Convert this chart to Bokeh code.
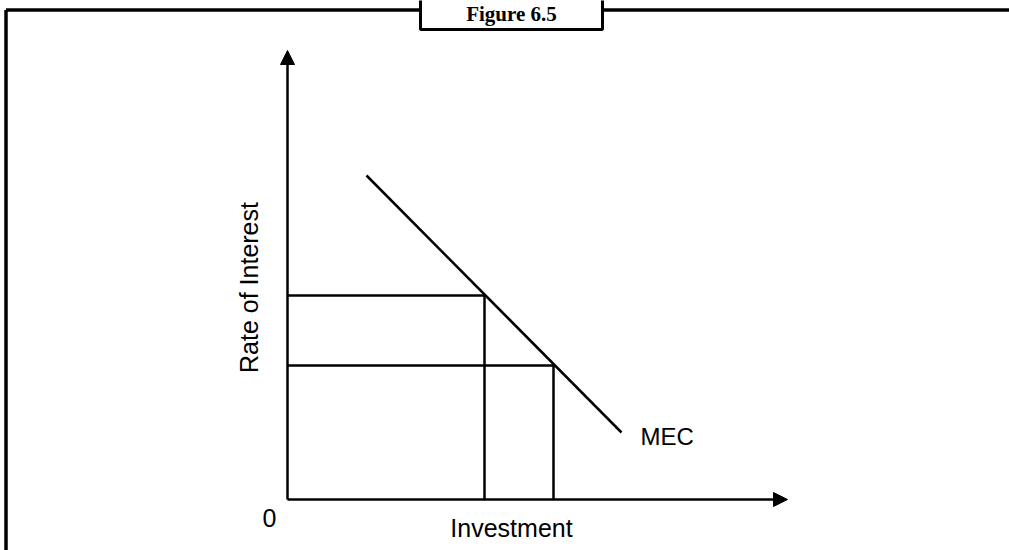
from bokeh.plotting import figure
from bokeh.models import Range1d, Arrow, NormalHead
from bokeh.core.properties import value
from bokeh.embed import file_html
from bokeh.resources import INLINE
import math

# ---- schematic data (abstract units) ----
mec_x = [1.58, 6.68]          # MEC curve, investment axis
mec_y = [6.48, 1.34]          # MEC curve, rate of interest axis
rates = [4.08, 2.68]          # two rates of interest
investments = [3.94, 5.32]    # matching investment levels
axis_x_max = 10.0
axis_y_max = 8.98
title_text = "Figure 6.5"
x_label = "Investment"
y_label = "Rate of Interest"
curve_label = "MEC"
origin_label = "0"

W, H = 1009, 550
OX, OY, S = 287.0, 499.0, 50.0   # pixel position of origin and pixels per unit


def px(x):
    return (x - OX) / S


def py(y):
    return (OY - y) / S


p = figure(width=W, height=H, output_backend="svg", toolbar_location=None,
           x_range=Range1d(px(0), px(W)), y_range=Range1d(py(H), py(0)),
           min_border=0)
p.axis.visible = False
p.grid.visible = False
p.outline_line_color = None
p.background_fill_color = "white"
p.border_fill_color = "white"

lw = 2.5
# ---- page frame ----
p.line([px(5.5), px(5.5)], [py(H + 20), py(9.5)], line_color="black", line_width=3.5)
p.line([px(5.5), px(420)], [py(9.5), py(9.5)], line_color="black", line_width=3.5)
p.line([px(602), px(W + 20)], [py(9.5), py(9.5)], line_color="black", line_width=3.5)
p.quad(left=px(420), right=px(602), bottom=py(29), top=py(-20),
       fill_color="white", line_color="black", line_width=3)
p.text(x=[px(511)], y=[py(13)], text=[title_text], text_font=value("Liberation Serif"),
       text_font_style="bold", text_font_size="21px", text_align="center",
       text_baseline="alphabetic", text_color="black")

# ---- axes with arrow heads ----
p.add_layout(Arrow(end=NormalHead(size=14, fill_color="black", line_color="black"),
                   x_start=0, y_start=0, x_end=0, y_end=axis_y_max,
                   line_color="black", line_width=lw))
p.add_layout(Arrow(end=NormalHead(size=14, fill_color="black", line_color="black"),
                   x_start=0, y_start=0, x_end=axis_x_max, y_end=0,
                   line_color="black", line_width=lw))

# ---- MEC curve ----
p.line(mec_x, mec_y, line_color="black", line_width=lw)

# ---- guide lines ----
for r, inv in zip(rates, investments):
    p.line([0, inv], [r, r], line_color="black", line_width=lw)
    p.line([inv, inv], [r, 0], line_color="black", line_width=lw)

# ---- labels ----
font = value("Liberation Sans")
p.text(x=[px(269)], y=[py(517)], text=[origin_label], text_font=font, text_font_size="25px",
       text_align="center", text_baseline="alphabetic", text_color="black")
p.text(x=[px(511)], y=[py(527)], text=[x_label], text_font=font, text_font_size="25px",
       text_align="center", text_baseline="alphabetic", text_color="black")
p.text(x=[px(248)], y=[py(287)], text=[y_label], text_font=font, text_font_size="25px",
       text_align="center", text_baseline="alphabetic", angle=math.pi / 2,
       text_color="black")
p.text(x=[px(640)], y=[py(436)], text=[curve_label], text_font=font, text_font_size="24px",
       text_align="left", text_baseline="alphabetic", text_color="black")

open("out.html", "w").write(file_html(p, INLINE))
